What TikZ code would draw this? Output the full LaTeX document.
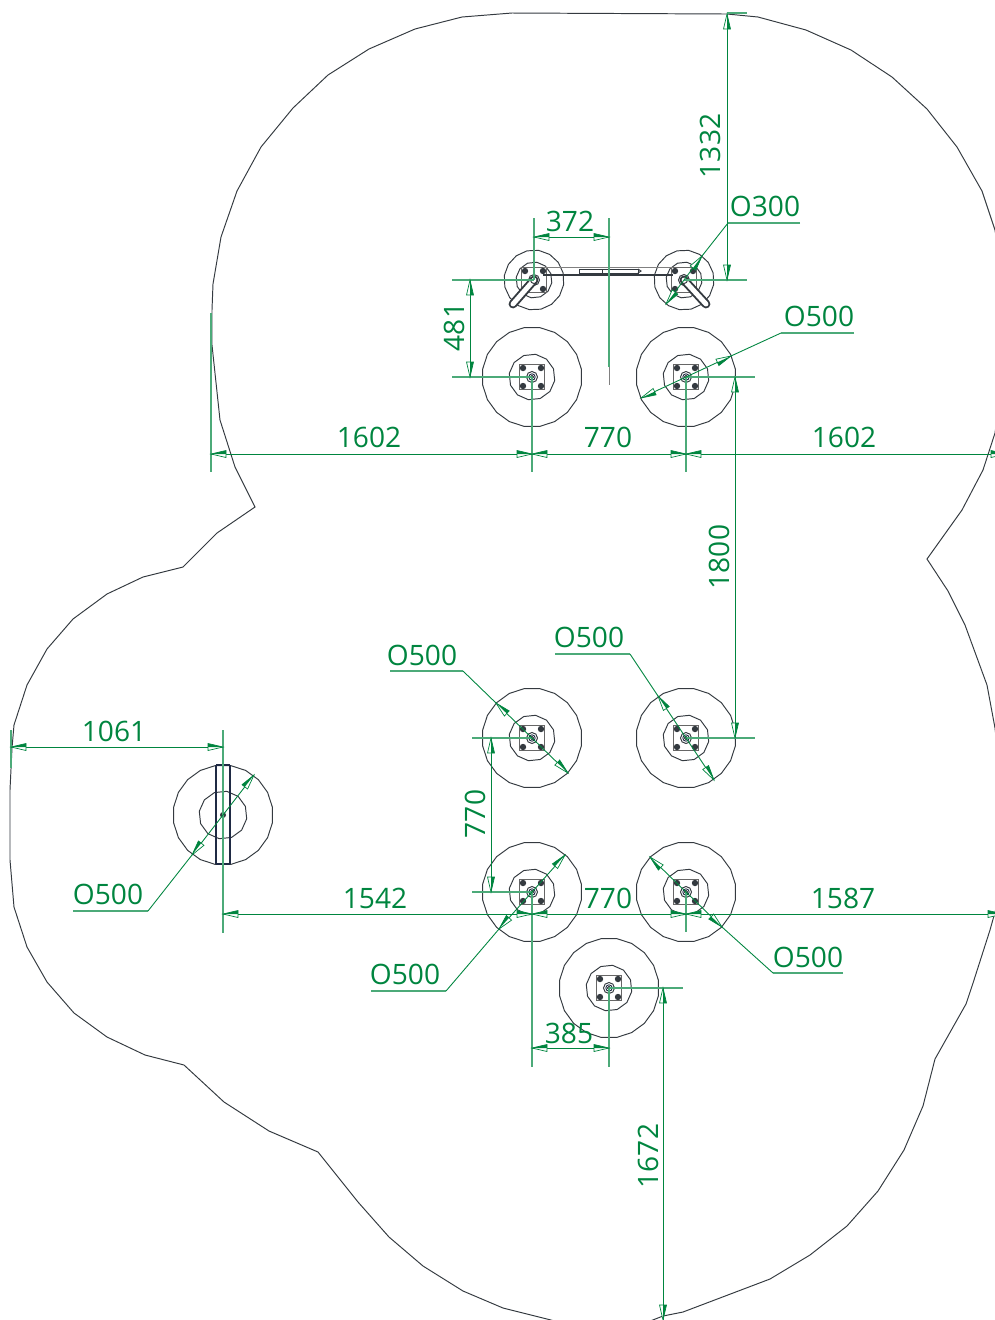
\documentclass[tikz,border=0pt]{standalone}
\usepackage{fontspec}
\setmainfont{Open Sans}
\usepackage{xcolor}
\usepackage{tikz}
\usetikzlibrary{calc}
\definecolor{dimgreen}{HTML}{00853F}
\definecolor{plandark}{HTML}{343A40}
\definecolor{plannavy}{HTML}{1F2A44}
\newcommand{\polyring}[2]{\draw[plan] plot[domain=0:360,samples=#2,variable=\t]({#1*cos(\t+9)},{#1*sin(\t+9)});}
\newcommand{\dimline}[2]{\draw[dim] (#1) -- (#2) pic[pos=0,sloped,allow upside down]{tipstart} pic[pos=1,sloped,allow upside down]{tipend};}
\tikzset{
    plan/.style={plandark,line width=0.55pt},
    dim/.style={dimgreen,line width=0.5pt},
    dimext/.style={dimgreen!70,line width=0.6pt},
    dimtext/.style={dimgreen,inner sep=0pt,font=\fontsize{16}{19}\selectfont},
    tipstart/.pic={
        \filldraw[draw=dimgreen,fill=white,line width=0.4pt] (0,0)--(15,-3.5)--(15,3.5)--cycle;
        \fill[dimgreen] (0,0)--(15,-3.5)--(15,0)--cycle;
    },
    tipend/.pic={
        \filldraw[draw=dimgreen,fill=white,line width=0.4pt] (0,0)--(-15,-3.5)--(-15,3.5)--cycle;
        \fill[dimgreen] (0,0)--(-15,-3.5)--(-15,0)--cycle;
    },
    baseplate/.pic={
        \draw[gray!80!black,line width=0.9pt] (-12.5,-12.5) rectangle (12.5,12.5);
        \foreach \bx in {-9,9}{
            \foreach \by in {-9,9}{
                \fill[plandark] (\bx,\by) circle (3.2);
            }
        }
        \fill[white] (0,0) circle (5.5);
        \draw[plan] (0,0) circle (5.5);
        \draw[plannavy,line width=0.5pt] (0,0) circle (3.2);
        \draw[plan] (0,0) circle (1.6);
    },
    footing/.pic={
        \polyring{50}{21}
        \polyring{23}{13}
        \pic {baseplate};
    },
    smallfooting/.pic={
        \polyring{30}{17}
        \polyring{18}{13}
        \pic {baseplate};
    },
    sidefooting/.pic={
        \polyring{50}{21}
        \polyring{24}{13}
        \fill[plandark] (0,0) circle (3);
    },
}
\begin{document}
\begin{tikzpicture}[x=0.02cm,y=-0.02cm]
    \useasboundingbox (0,0) rectangle (995,1320);
    \clip (0,0) rectangle (995,1320);

    % outline of the safety area
    \draw[plan] (512,13)--(727,14)--(758,17)--(806,30)--(851,50)--(892,77)--(927,109)--(957,147)--(982,191)--(995,230)
        --(1010,330)--(995,433)--(983,470)--(962,510)--(927,559)--(948,591)--(965,625)--(987,685)--(995,728)
        --(1005,820)--(997,905)--(990,930)--(974,980)--(966,1004)--(935,1059)--(923,1106)--(904,1150)--(878,1191)--(847,1226)
        --(810,1255)--(770,1279)--(683,1312)--(663,1316)--(640,1325)--(570,1325)--(547,1319)--(503,1308)--(463,1291)
        --(423,1266)--(389,1237)--(358,1202)--(318,1152)--(269,1131)--(224,1102)--(184,1065)--(145,1055)--(107,1037)
        --(74,1013)--(47,982)--(27,947)--(14,907)--(10,860)--(10,790)--(12,748)--(14,725)--(27,685)--(47,649)--(73,619)
        --(107,594)--(143,577)--(183,567)--(217,533)--(255,507)--(235,467)--(220,420)--(212,345)--(212,310)--(213,284)
        --(221,237)--(237,191)--(261,147)--(293,108)--(328,75)--(369,49)--(415,29)--(462,17)--cycle;

    % footings
    \coordinate (armL) at (534,280);
    \coordinate (armR) at (684,280);
    \coordinate (rowAl) at (532,377);
    \coordinate (rowAr) at (686,377);
    \coordinate (rowBl) at (532,738);
    \coordinate (rowBr) at (686,738);
    \coordinate (rowCl) at (532,892);
    \coordinate (rowCr) at (686,892);
    \coordinate (front) at (609,988);
    \coordinate (side) at (223,815);
    \pic at (armL) {smallfooting};
    \pic at (armR) {smallfooting};
    \pic at (rowAl) {footing};
    \pic at (rowAr) {footing};
    \pic at (rowBl) {footing};
    \pic at (rowBr) {footing};
    \pic at (rowCl) {footing};
    \pic at (rowCr) {footing};
    \pic at (front) {footing};
    \pic at (side) {sidefooting};

    % beam between the two small footings
    \coordinate (beamA) at (543,267);
    \coordinate (beamB) at (673,267);
    \coordinate (beamC) at (673,275);
    \coordinate (beamD) at (543,275);
    \draw[plan,gray] (beamA)--(beamB);
    \draw[plandark,line width=0.8pt] (beamD)--(beamC);
    \draw[plan] (579,269) rectangle (638,273);
    \draw[plan] (602,269)--(602,273);
    \draw[plan] (638,269)--(641,271)--(638,273);

    % slotted arms
    \coordinate (slotL) at (513,304);
    \coordinate (slotR) at (706,304);
    \draw[plandark,line width=5pt,line cap=round] (armL)--(slotL);
    \draw[white,line width=2.8pt,line cap=round] (armL)--(slotL);
    \draw[plandark,line width=5pt,line cap=round] (armR)--(slotR);
    \draw[white,line width=2.8pt,line cap=round] (armR)--(slotR);
    \draw[plan] (armL) circle (3.5);
    \draw[plan] (armR) circle (3.5);

    % side post
    \draw[plannavy,line width=1.1pt] (216,765)--(216,864);
    \draw[plannavy,line width=1.1pt] (230,765)--(230,864);
    \draw[plannavy,line width=0.6pt] (216,765)--(230,765);
    \draw[plannavy,line width=0.6pt] (216,864)--(230,864);

    % extension lines
    \draw[dimext] (534,218)--(armL);
    \draw[dimext] (609,218)--(609,367);
    \draw[plan,gray] (609,367)--(609,385);
    \draw[dimext] (452,280)--(armL);
    \draw[dimext] (armR)--(747,280);
    \draw[dimext] (727,13)--(747,13);
    \draw[dimext] (452,377)--(rowAl);
    \draw[dimext] (rowAr)--(755,377);
    \draw[dimext] (rowBr)--(755,738);
    \draw[dimext] (472,738)--(rowBl);
    \draw[dimext] (472,892)--(rowCl);
    \draw[dimext] (211,313)--(211,472);
    \draw[dimext] (rowAl)--(532,472);
    \draw[dimext] (rowAr)--(686,472);
    \draw[dimext] (11,730)--(11,768);
    \draw[dimext] (223,730)--(223,933);
    \draw[dimext] (rowCl)--(532,1067);
    \draw[dimext] (rowCr)--(686,932);
    \draw[dimext] (front)--(609,1067);
    \draw[dimext] (front)--(683,988);

    % dimensions
    \coordinate (d372a) at (534,237);
    \coordinate (d372b) at (609,237);
    \dimline{d372a}{d372b}
    \coordinate (d1332a) at (727,14);
    \coordinate (d1332b) at (727,280);
    \dimline{d1332a}{d1332b}
    \coordinate (d481a) at (470,280);
    \coordinate (d481b) at (470,377);
    \dimline{d481a}{d481b}
    \coordinate (d1602a) at (211,454);
    \coordinate (d1602b) at (532,454);
    \coordinate (d770a) at (686,454);
    \coordinate (d1602c) at (1006,454);
    \dimline{d1602a}{d1602b}
    \dimline{d1602b}{d770a}
    \dimline{d770a}{d1602c}
    \coordinate (d1800a) at (735,377);
    \coordinate (d1800b) at (735,738);
    \dimline{d1800a}{d1800b}
    \coordinate (d1061a) at (11,747);
    \coordinate (d1061b) at (223,747);
    \dimline{d1061a}{d1061b}
    \coordinate (d770c) at (491,738);
    \coordinate (d770d) at (491,892);
    \dimline{d770c}{d770d}
    \coordinate (d1542a) at (223,914);
    \coordinate (d1542b) at (532,914);
    \coordinate (d770e) at (686,914);
    \coordinate (d1587a) at (1003,914);
    \dimline{d1542a}{d1542b}
    \dimline{d1542b}{d770e}
    \dimline{d770e}{d1587a}
    \coordinate (d385a) at (532,1048);
    \coordinate (d385b) at (609,1048);
    \dimline{d385a}{d385b}
    \coordinate (d1672a) at (663,988);
    \coordinate (d1672b) at (663,1320);
    \dimline{d1672a}{d1672b}

    % diameter leaders
    \coordinate (oA1) at (800,223);
    \coordinate (oA2) at (728,223);
    \coordinate (oA3) at (702,256);
    \coordinate (oA4) at (666,304);
    \draw[dimext] (oA1)--(oA2);
    \draw[dim] (oA2)--(oA3);
    \dimline{oA3}{oA4}
    \coordinate (oB1) at (854,333);
    \coordinate (oB2) at (781,333);
    \coordinate (oB3) at (731,356);
    \coordinate (oB4) at (641,398);
    \draw[dimext] (oB1)--(oB2);
    \draw[dim] (oB2)--(oB3);
    \dimline{oB3}{oB4}
    \coordinate (oC1) at (390,671);
    \coordinate (oC2) at (463,671);
    \coordinate (oC3) at (496,703);
    \coordinate (oC4) at (568,773);
    \draw[dimext] (oC1)--(oC2);
    \draw[dim] (oC2)--(oC3);
    \dimline{oC3}{oC4}
    \coordinate (oD1) at (555,654);
    \coordinate (oD2) at (630,654);
    \coordinate (oD3) at (658,696);
    \coordinate (oD4) at (714,780);
    \draw[dimext] (oD1)--(oD2);
    \draw[dim] (oD2)--(oD3);
    \dimline{oD3}{oD4}
    \coordinate (oE1) at (73,911);
    \coordinate (oE2) at (148,911);
    \coordinate (oE3) at (192,855);
    \coordinate (oE4) at (254,775);
    \draw[dimext] (oE1)--(oE2);
    \draw[dim] (oE2)--(oE3);
    \dimline{oE3}{oE4}
    \coordinate (oF1) at (371,991);
    \coordinate (oF2) at (446,991);
    \coordinate (oF3) at (499,929);
    \coordinate (oF4) at (565,855);
    \draw[dimext] (oF1)--(oF2);
    \draw[dim] (oF2)--(oF3);
    \dimline{oF3}{oF4}
    \coordinate (oG1) at (843,973);
    \coordinate (oG2) at (773,973);
    \coordinate (oG3) at (722,927);
    \coordinate (oG4) at (650,857);
    \draw[dimext] (oG1)--(oG2);
    \draw[dim] (oG2)--(oG3);
    \dimline{oG3}{oG4}

    % labels
    \node[dimtext] (t372) at (570,221) {372};
    \node[dimtext,rotate=90] (t1332) at (710,146) {1332};
    \node[dimtext,rotate=90] (t481) at (454,327) {481};
    \node[dimtext] (t1602a) at (369,437) {1602};
    \node[dimtext] (t770a) at (608,437) {770};
    \node[dimtext] (t1602b) at (844,437) {1602};
    \node[dimtext,rotate=90] (t1800) at (719,557) {1800};
    \node[dimtext] (t1061) at (114,731) {1061};
    \node[dimtext,rotate=90] (t770b) at (475,814) {770};
    \node[dimtext] (t1542) at (375,898) {1542};
    \node[dimtext] (t770c) at (608,898) {770};
    \node[dimtext] (t1587) at (843,898) {1587};
    \node[dimtext] (t385) at (569,1033) {385};
    \node[dimtext,rotate=90] (t1672) at (648,1156) {1672};
    \node[dimtext] (oA) at (765,206) {O300};
    \node[dimtext] (oB) at (819,316) {O500};
    \node[dimtext] (oC) at (422,655) {O500};
    \node[dimtext] (oD) at (589,637) {O500};
    \node[dimtext] (oE) at (108,894) {O500};
    \node[dimtext] (oF) at (405,974) {O500};
    \node[dimtext] (oG) at (808,957) {O500};
\end{tikzpicture}
\end{document}
